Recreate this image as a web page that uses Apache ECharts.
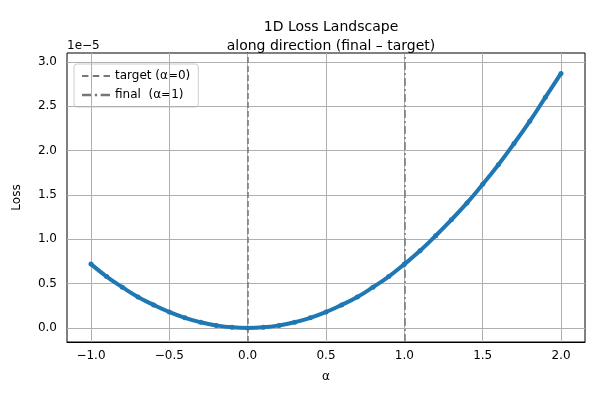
<!DOCTYPE html><html><head><meta charset="utf-8">
<script src="https://cdn.jsdelivr.net/npm/echarts@6/dist/echarts.min.js"></script>
<style>html,body{margin:0;padding:0;background:#fff}#c{width:600px;height:400px}</style></head>
<body><div id="c"></div><script>
const alphas=[-1.0,-0.9,-0.8,-0.7,-0.6,-0.5,-0.4,-0.3,-0.2,-0.1,0,0.1,0.2,0.3,0.4,0.5,0.6,0.7,0.8,0.9,1.0,1.1,1.2,1.3,1.4,1.5,1.6,1.7,1.8,1.9,2.0];
const loss=[0.72,0.58,0.46,0.35,0.26,0.18,0.115,0.065,0.029,0.007,0,0.007,0.029,0.065,0.115,0.18,0.26,0.35,0.46,0.58,0.72,0.87,1.04,1.22,1.41,1.62,1.84,2.08,2.33,2.60,2.87];
const xTicks=[-1.0,-0.5,0.0,0.5,1.0,1.5,2.0];
const yTicks=[0.0,0.5,1.0,1.5,2.0,2.5,3.0];
const ch=echarts.init(document.getElementById('c'));
const F='DejaVu Sans';
ch.setOption({
 animation:false,textStyle:{fontFamily:F},
 title:{text:'1D Loss Landscape\nalong direction (final – target)',left:326,top:13,textAlign:'center',textStyle:{fontFamily:F,fontSize:14,fontWeight:'normal',color:'#000',lineHeight:19}},
 grid:{left:67,right:15,top:53,bottom:58},
 legend:{left:74,top:64,orient:'vertical',itemWidth:28,itemHeight:10,itemGap:7,padding:[6,8],borderColor:'#ccc',borderWidth:1,borderRadius:3,textStyle:{fontFamily:F,fontSize:12,color:'#000'},
  data:[{name:'target (α=0)',icon:'path://M0,4h6v2h-6zM10,4h6v2h-6zM20,4h6v2h-6z'},{name:'final  (α=1)',icon:'path://M0,4h8v2h-8zM11,4h2v2h-2zM16,4h8v2h-8z'}]},
 xAxis:{type:'value',min:-1.153,max:2.153,name:'α',nameLocation:'middle',nameGap:29,nameTextStyle:{fontSize:12,color:'#000'},
  axisLine:{onZero:false,lineStyle:{color:'#000'}},axisTick:{show:false},splitLine:{show:false},axisLabel:{show:false}},
 yAxis:{type:'value',min:-0.158,max:3.1,name:'Loss',nameLocation:'middle',nameGap:44,nameTextStyle:{fontSize:12,color:'#000'},
  axisLine:{show:true,lineStyle:{color:'#000'}},axisTick:{show:false},splitLine:{show:false},axisLabel:{show:false}},
 graphic:[{type:'text',left:67,top:40,style:{text:'1e−5',font:'12px DejaVu Sans',fill:'#000'}},
  {type:'rect',shape:{x:67,y:53,width:518,height:289},style:{fill:'none',stroke:'#000',lineWidth:1},silent:true}],
 series:[
  {type:'line',name:'_grid',data:[],silent:true,markLine:{symbol:'none',silent:true,label:{show:false},lineStyle:{color:'#b0b0b0',type:'solid',width:1},
   data:xTicks.map(v=>({xAxis:v})).concat(yTicks.map(v=>({yAxis:v})))}},
  {type:'line',name:'_ticks',data:[],silent:true,markLine:{symbol:'none',silent:true,lineStyle:{width:0},
   label:{show:true,position:'start',fontFamily:F,fontSize:12,color:'#000',distance:8},
   data:xTicks.map(v=>({xAxis:v,label:{formatter:v.toFixed(1).replace('-','−')}})).concat(yTicks.map(v=>({yAxis:v,label:{formatter:v.toFixed(1),distance:10}})))}},
  {type:'line',name:'loss',data:alphas.map((a,i)=>[a,loss[i]]),smooth:true,symbol:'circle',symbolSize:5,showSymbol:true,
   lineStyle:{color:'#1f77b4',width:4},itemStyle:{color:'#1f77b4'},z:5},
  {type:'line',name:'target (α=0)',data:[],color:'#777',lineStyle:{type:'dashed'},markLine:{symbol:'none',silent:true,label:{show:false},lineStyle:{color:'#777',type:[6,3],width:1.5},data:[{xAxis:0}]}},
  {type:'line',name:'final  (α=1)',data:[],color:'#777',markLine:{symbol:'none',silent:true,label:{show:false},lineStyle:{color:'#777',type:[8,3,2,3],width:1.5},data:[{xAxis:1}]}}
 ]});
</script></body></html>
